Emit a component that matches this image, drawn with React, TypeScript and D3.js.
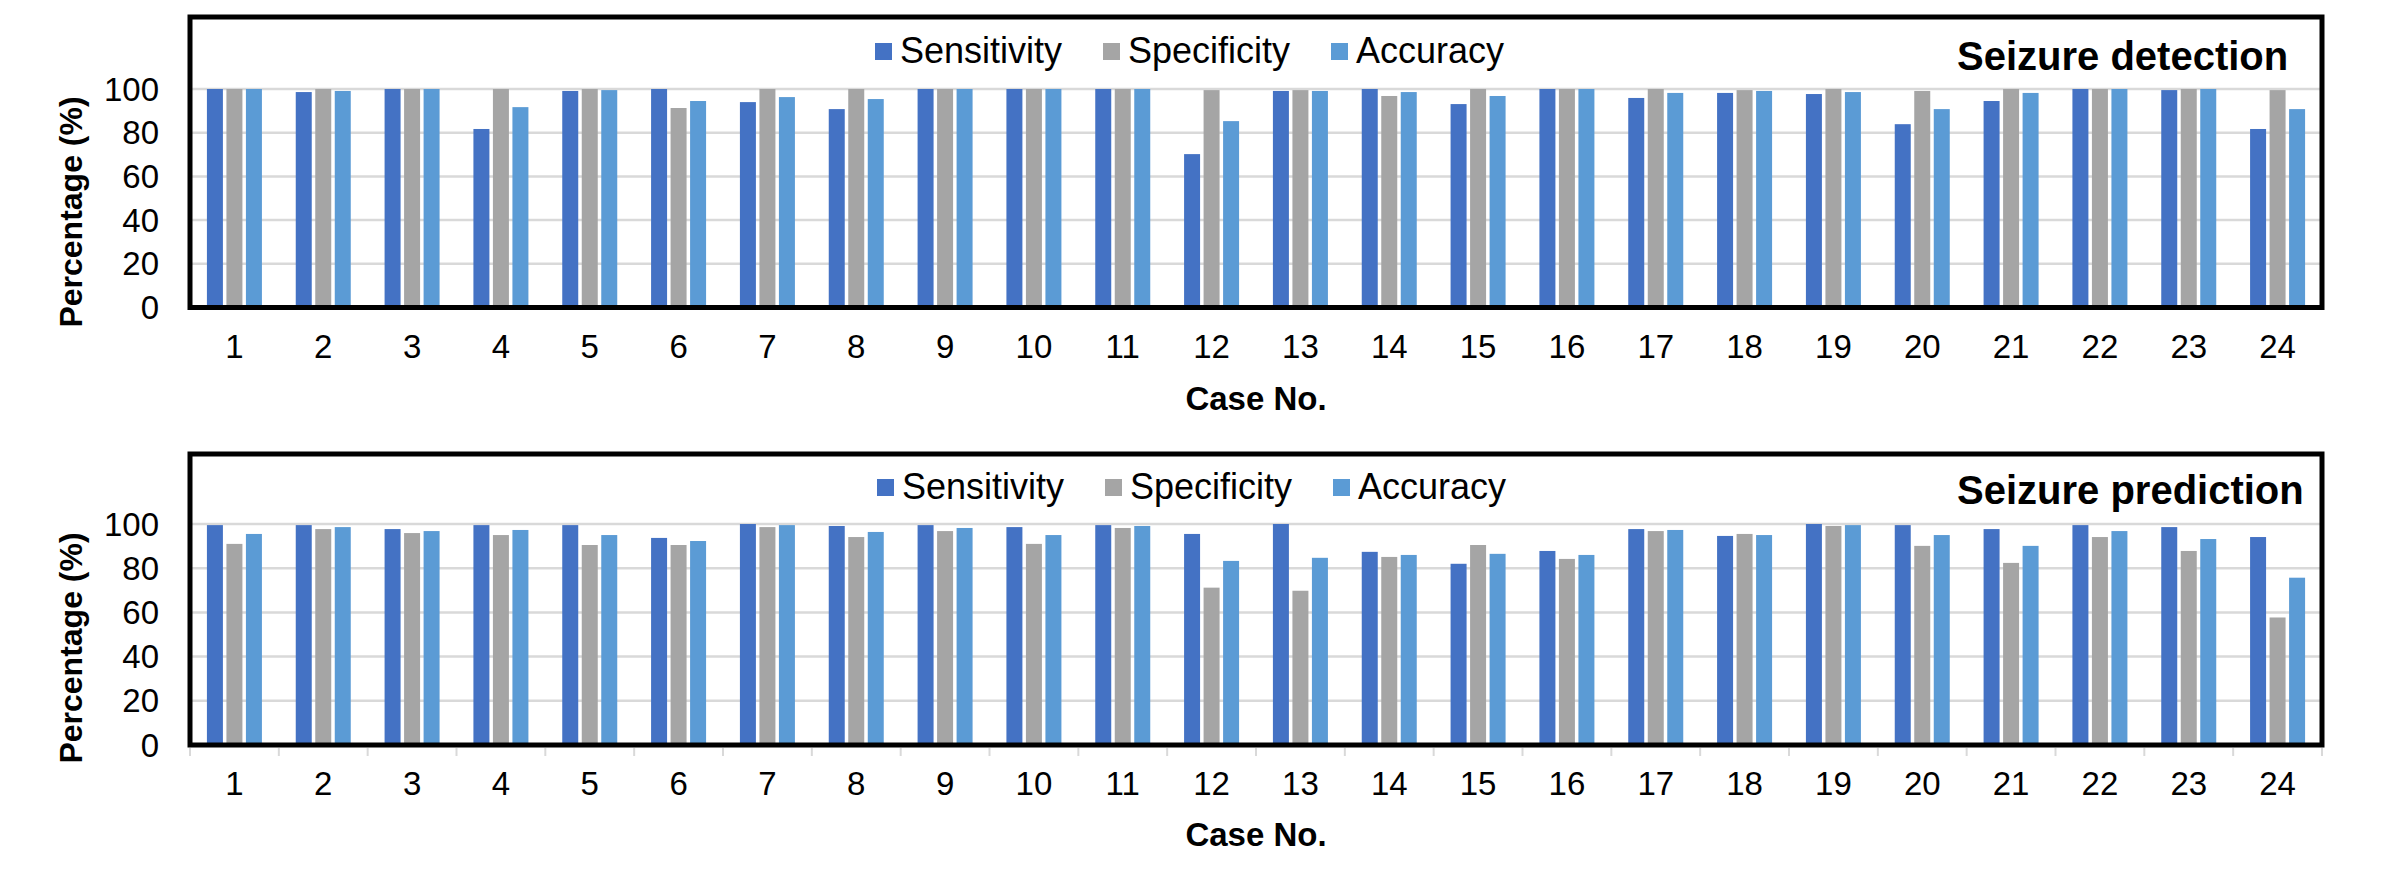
import React, { useEffect, useRef } from 'react';
import * as d3 from 'd3';

const cases = Array.from({ length: 24 }, (_, i) => String(i + 1));
const seriesNames = ['Sensitivity', 'Specificity', 'Accuracy'];
const seriesColors = ['#4472C4', '#A5A5A5', '#5B9BD5'];
const yTicks = [0, 20, 40, 60, 80, 100];

// Seizure detection
const detectionSensitivity = [100, 98.6, 100, 81.7, 99.1, 100, 94.0, 90.8, 100, 100, 100, 70.2, 99.1, 100, 93.1, 100, 95.9, 98.2, 97.7, 83.9, 94.5, 100, 99.5, 81.7];
const detectionSpecificity = [100, 100, 100, 100, 100, 91.3, 100, 100, 100, 100, 100, 99.5, 99.5, 96.8, 100, 100, 100, 99.5, 100, 99.1, 100, 100, 100, 99.5];
const detectionAccuracy = [100, 99.1, 100, 91.7, 99.5, 94.5, 96.3, 95.4, 100, 100, 100, 85.3, 99.1, 98.6, 96.8, 100, 98.2, 99.1, 98.6, 90.8, 98.2, 100, 100, 90.8];

// Seizure prediction
const predictionSensitivity = [99.5, 99.5, 97.7, 99.5, 99.5, 93.7, 100, 99.1, 99.5, 98.6, 99.5, 95.5, 100, 87.4, 82.0, 87.8, 97.7, 94.6, 100, 99.5, 97.7, 99.5, 98.6, 94.1];
const predictionSpecificity = [91.0, 97.7, 95.9, 95.0, 90.5, 90.5, 98.6, 94.1, 96.8, 91.0, 98.2, 71.2, 69.8, 85.1, 90.5, 84.2, 96.8, 95.5, 99.1, 90.1, 82.4, 94.1, 87.8, 57.7];
const predictionAccuracy = [95.5, 98.6, 96.8, 97.3, 95.0, 92.3, 99.5, 96.4, 98.2, 95.0, 99.1, 83.3, 84.7, 86.0, 86.5, 86.0, 97.3, 95.0, 99.5, 95.0, 90.1, 96.8, 93.2, 75.7];

const panelTitles = ['Seizure detection', 'Seizure prediction'];
const panelSeries = [
    [detectionSensitivity, detectionSpecificity, detectionAccuracy],
    [predictionSensitivity, predictionSpecificity, predictionAccuracy],
];

// layout of each panel (pixels)
const layouts = [
    { frameTop: 17, y0: 307.5, y100: 89, tickY: 358, caseY: 410, yLabelY: 212, legendY: 43, titleY: 70, legendX: 875, xTicks: false },
    { frameTop: 454, y0: 745, y100: 524, tickY: 795, caseY: 846, yLabelY: 648, legendY: 479, titleY: 504, legendX: 877, xTicks: true },
];

const FONT = '"Liberation Sans", Arial, sans-serif';
const W = 2392;
const H = 870;

const App: React.FC = () => {
    const ref = useRef<SVGSVGElement>(null);

    useEffect(() => {
        if (!ref.current) return;
        const svg = d3.select(ref.current);
        svg.selectAll('*').remove();

        const left = 190;
        const right = 2322;

        const x = d3.scaleBand<string>().domain(cases).range([left, right]);
        const sub = d3.scaleBand<string>().domain(seriesNames).range([-27.5, 27.5]).paddingInner(0.18);

        layouts.forEach((lay, p) => {
            const g = svg.append('g');
            const y = d3.scaleLinear().domain([0, 100]).range([lay.y0, lay.y100]);

            // gridlines
            g.selectAll('.grid')
                .data(yTicks.filter((t) => t > 0))
                .enter()
                .append('line')
                .attr('x1', left)
                .attr('x2', right)
                .attr('y1', (d) => y(d))
                .attr('y2', (d) => y(d))
                .attr('stroke', '#D9D9D9')
                .attr('stroke-width', 2.5);

            // bars
            seriesNames.forEach((name, s) => {
                g.selectAll(`.bar-${s}`)
                    .data(panelSeries[p][s])
                    .enter()
                    .append('rect')
                    .attr('x', (_, i) => (x(cases[i]) as number) + x.bandwidth() / 2 + (sub(name) as number))
                    .attr('width', sub.bandwidth())
                    .attr('y', (d) => y(d))
                    .attr('height', (d) => y(0) - y(d))
                    .attr('fill', seriesColors[s]);
            });

            // frame
            g.append('rect')
                .attr('x', left)
                .attr('y', lay.frameTop)
                .attr('width', right - left)
                .attr('height', lay.y0 - lay.frameTop)
                .attr('fill', 'none')
                .attr('stroke', '#000')
                .attr('stroke-width', 5);

            // x tick marks
            if (lay.xTicks) {
                g.selectAll('.xtick')
                    .data(cases.map((c) => x(c) as number).concat([right]))
                    .enter()
                    .append('line')
                    .attr('x1', (d) => d)
                    .attr('x2', (d) => d)
                    .attr('y1', lay.y0 + 3)
                    .attr('y2', lay.y0 + 11)
                    .attr('stroke', '#D9D9D9')
                    .attr('stroke-width', 2);
            }

            // x tick labels
            g.selectAll('.xlabel')
                .data(cases)
                .enter()
                .append('text')
                .attr('x', (d) => (x(d) as number) + x.bandwidth() / 2)
                .attr('y', lay.tickY)
                .attr('text-anchor', 'middle')
                .attr('font-family', FONT)
                .attr('font-size', 33)
                .attr('fill', '#000')
                .text((d) => d);

            // y tick labels
            g.selectAll('.ylabel')
                .data(yTicks)
                .enter()
                .append('text')
                .attr('x', 159)
                .attr('y', (d) => y(d))
                .attr('dy', '0.35em')
                .attr('text-anchor', 'end')
                .attr('font-family', FONT)
                .attr('font-size', 33)
                .attr('fill', '#000')
                .text((d) => d);

            // axis titles
            g.append('text')
                .attr('transform', `translate(82,${lay.yLabelY}) rotate(-90)`)
                .attr('text-anchor', 'middle')
                .attr('font-family', FONT)
                .attr('font-size', 32)
                .attr('font-weight', 'bold')
                .text('Percentage (%)');

            g.append('text')
                .attr('x', (left + right) / 2)
                .attr('y', lay.caseY)
                .attr('text-anchor', 'middle')
                .attr('font-family', FONT)
                .attr('font-size', 33)
                .attr('font-weight', 'bold')
                .text('Case No.');

            // panel title
            g.append('text')
                .attr('x', 1957)
                .attr('y', lay.titleY)
                .attr('font-family', FONT)
                .attr('font-size', 40)
                .attr('font-weight', 'bold')
                .text(panelTitles[p]);

            // legend
            const legend = g
                .selectAll('.legend')
                .data(seriesNames)
                .enter()
                .append('g')
                .attr('transform', (_, i) => `translate(${lay.legendX + i * 228},${lay.legendY})`);

            legend
                .append('rect')
                .attr('width', 17)
                .attr('height', 17)
                .attr('fill', (_, i) => seriesColors[i]);

            legend
                .append('text')
                .attr('x', 25)
                .attr('y', 20)
                .attr('font-family', FONT)
                .attr('font-size', 36)
                .attr('fill', '#000')
                .text((d) => d);
        });
    }, []);

    return (
        <svg
            ref={ref}
            width={W}
            height={H}
            style={{ position: 'absolute', left: 0, top: 0, background: '#fff' }}
        />
    );
};

export default App;
